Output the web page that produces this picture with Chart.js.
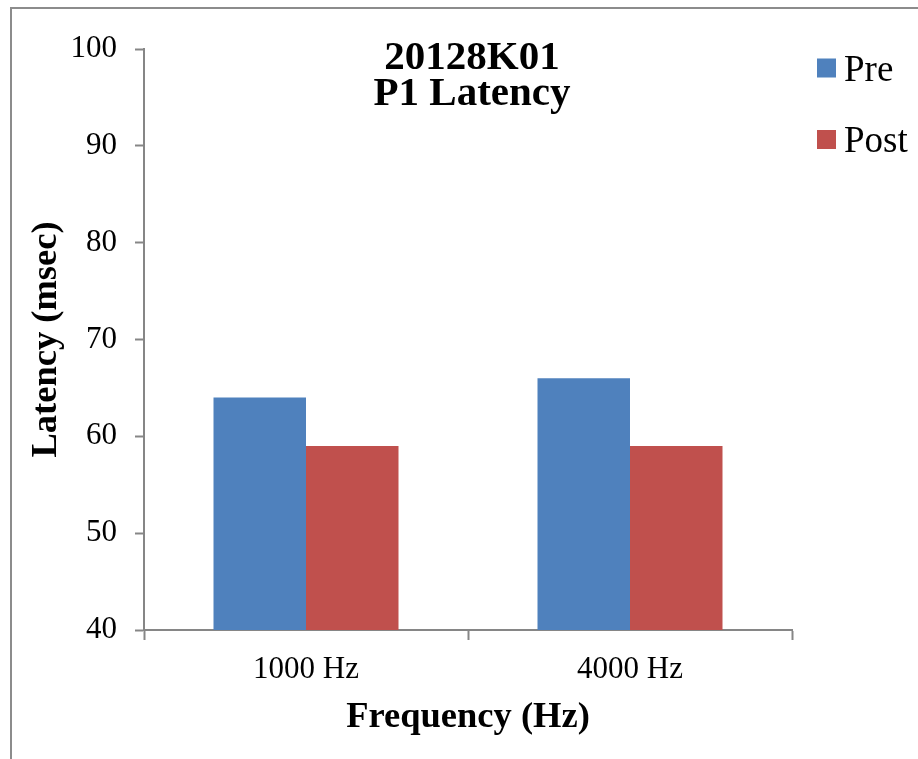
<!DOCTYPE html>
<html>
<head>
<meta charset="utf-8">
<script src="https://cdn.jsdelivr.net/npm/chart.js@4"></script>
<style>
  html, body { margin: 0; padding: 0; background: #ffffff; }
  #wrap { position: relative; width: 918px; height: 759px; }
</style>
</head>
<body>
<div id="wrap"><canvas id="c" width="918" height="759"></canvas></div>
<script>
// ---- data ----
const categories = ['1000 Hz', '4000 Hz'];
const seriesNames = ['Pre', 'Post'];
const preValues = [64, 66];
const postValues = [59, 59];
const titleLines = ['20128K01', 'P1 Latency'];
const xAxisTitle = 'Frequency (Hz)';
const yAxisTitle = 'Latency (msec)';
const yMin = 40, yMax = 100, yStep = 10;

// ---- styles ----
const SERIF = '"Liberation Serif", "Times New Roman", Times, serif';
const AXIS_GRAY = '#868686';
const colors = ['#4F81BD', '#C0504D'];

const framePlugin = {
  id: 'frame',
  beforeDraw(chart) {
    const ctx = chart.ctx;
    ctx.save();
    ctx.fillStyle = '#ffffff';
    ctx.fillRect(0, 0, chart.width, chart.height);
    ctx.strokeStyle = '#8c8c8c';
    ctx.lineWidth = 2;
    ctx.beginPath();
    ctx.moveTo(11, chart.height);
    ctx.lineTo(11, 8);
    ctx.lineTo(chart.width, 8);
    ctx.stroke();
    ctx.restore();
  }
};

const titlePlugin = {
  id: 'innerTitle',
  afterDraw(chart) {
    const ctx = chart.ctx;
    const a = chart.chartArea;
    const cx = (a.left + a.right) / 2 + 4;
    ctx.save();
    ctx.fillStyle = '#000000';
    ctx.font = 'bold 41px ' + SERIF;
    ctx.textAlign = 'center';
    ctx.textBaseline = 'alphabetic';
    ctx.fillText(titleLines[0], cx, a.top + 19.5);
    ctx.fillText(titleLines[1], cx, a.top + 56);
    ctx.restore();
  }
};

const legendPlugin = {
  id: 'sideLegend',
  afterDraw(chart) {
    const ctx = chart.ctx;
    const a = chart.chartArea;
    ctx.save();
    ctx.font = '37px ' + SERIF;
    ctx.textAlign = 'left';
    ctx.textBaseline = 'alphabetic';
    chart.data.datasets.forEach((ds, i) => {
      const boxX = a.right + 25;
      const boxY = a.top + 9.5 + i * 71.5;
      ctx.fillStyle = ds.backgroundColor;
      ctx.fillRect(boxX, boxY, 19, 19);
      ctx.fillStyle = '#000000';
      ctx.fillText(ds.label, boxX + 27, boxY + 22);
    });
    ctx.restore();
  }
};

new Chart(document.getElementById('c'), {
  type: 'bar',
  data: {
    labels: categories,
    datasets: [
      { label: seriesNames[0], data: preValues, backgroundColor: colors[0], borderWidth: 0 },
      { label: seriesNames[1], data: postValues, backgroundColor: colors[1], borderWidth: 0 }
    ]
  },
  options: {
    responsive: false,
    animation: false,
    devicePixelRatio: 1,
    layout: { padding: { left: 0, top: 49, right: 126, bottom: 0 } },
    plugins: {
      legend: { display: false },
      title: { display: false },
      tooltip: { enabled: false }
    },
    datasets: {
      bar: { categoryPercentage: 0.571, barPercentage: 1.0 }
    },
    scales: {
      x: {
        afterFit(scale) { scale.height = 129; },
        grid: {
          offset: true,
          drawOnChartArea: false,
          drawTicks: true,
          tickLength: 10,
          tickColor: AXIS_GRAY,
          tickWidth: 2
        },
        border: { display: true, color: AXIS_GRAY, width: 2 },
        ticks: {
          color: '#000000',
          font: { family: SERIF, size: 31 },
          padding: 11,
          maxRotation: 0
        },
        title: {
          display: true,
          text: xAxisTitle,
          color: '#000000',
          font: { family: SERIF, size: 36.5, weight: 'bold' },
          padding: { top: 0, bottom: 20 }
        }
      },
      y: {
        min: yMin,
        max: yMax,
        afterFit(scale) { scale.width = 144; },
        grid: {
          drawOnChartArea: false,
          drawTicks: true,
          tickLength: 9,
          tickColor: AXIS_GRAY,
          tickWidth: 2
        },
        border: { display: true, color: AXIS_GRAY, width: 2 },
        ticks: {
          stepSize: yStep,
          color: '#000000',
          font: { family: SERIF, size: 31 },
          padding: 18
        },
        title: {
          display: true,
          text: yAxisTitle,
          color: '#000000',
          font: { family: SERIF, size: 36.5, weight: 'bold' },
          padding: { top: 25, bottom: 0 }
        }
      }
    }
  },
  plugins: [framePlugin, titlePlugin, legendPlugin]
});
</script>
</body>
</html>
